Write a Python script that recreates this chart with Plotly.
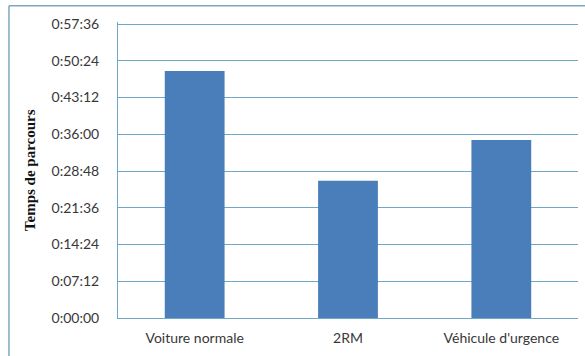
import plotly.graph_objects as go

# Temps de parcours par type de véhicule (h:mm:ss)
vehicules = ["Voiture normale", "2RM", "Véhicule d'urgence"]
temps = ["0:48:23", "0:26:54", "0:34:52"]
ticks = ["0:00:00", "0:07:12", "0:14:24", "0:21:36", "0:28:48",
         "0:36:00", "0:43:12", "0:50:24", "0:57:36"]


def en_secondes(t):
    h, m, s = [int(v) for v in t.split(":")]
    return h * 3600 + m * 60 + s


valeurs = [en_secondes(t) for t in temps]
tickvals = [en_secondes(t) for t in ticks]

grid_col = "#6fa8c6"

fig = go.Figure(go.Bar(
    x=vehicules,
    y=valeurs,
    marker=dict(color="#4a7ebb", line=dict(width=0)),
    customdata=temps,
    hovertemplate="%{x}: %{customdata}<extra></extra>",
))

fig.update_layout(
    width=585,
    height=356,
    margin=dict(l=118, r=7, t=22, b=38),
    paper_bgcolor="white",
    plot_bgcolor="white",
    bargap=0.61,
    showlegend=False,
    font=dict(family="Lato, 'Open Sans', sans-serif", size=14, color="#383838"),
)

fig.update_yaxes(
    range=[0, tickvals[-1] + 24],
    tickvals=tickvals,
    ticktext=ticks,
    showgrid=True,
    gridcolor=grid_col,
    gridwidth=1,
    showline=True,
    linecolor=grid_col,
    linewidth=1,
    ticks="",
    ticklabelstandoff=15,
    zeroline=False,
)

fig.update_xaxes(
    showline=True,
    linecolor=grid_col,
    linewidth=1,
    ticks="",
    ticklabelstandoff=7,
)

# titre de l'axe vertical
fig.add_annotation(
    text="<b>Temps de parcours</b>",
    textangle=-90,
    xref="paper", yref="paper",
    x=-0.191, y=0.5,
    xanchor="center", yanchor="middle",
    showarrow=False,
    font=dict(family="'Liberation Serif', serif", size=15, color="#111111"),
)

# cadre extérieur du graphique
fig.add_shape(
    type="line", xref="paper", yref="paper",
    x0=-0.237, x1=-0.237, y0=-0.2, y1=1.055,
    line=dict(color="#7ea8c0", width=1.5),
)
fig.add_shape(
    type="line", xref="paper", yref="paper",
    x0=-0.237, x1=1.1, y0=1.055, y1=1.055,
    line=dict(color="#7ea8c0", width=1.5),
)

fig.write_html(
    "out.html",
    config={"displayModeBar": False},
    post_script="document.body.style.margin='0';",
)
